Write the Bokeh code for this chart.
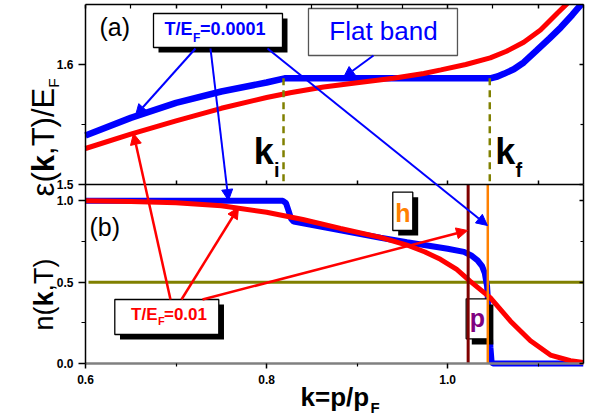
import math
from bokeh.plotting import figure
from bokeh.models import (Range1d, LinearAxis, FixedTicker, Label, Arrow, NormalHead,
                          NumeralTickFormatter)
from bokeh.embed import file_html
from bokeh.resources import INLINE

FONT = "Liberation Sans"
BLUE = "#0000FF"
RED = "#FF0000"
OLIVE = "#808000"
MAROON = "#800000"
ORANGE = "#FF8000"
PURPLE = "#800080"

# ---------------- data ----------------
# (a) single-particle spectrum eps(k,T)/E_F
k_eps_lowT = [0.600, 0.650, 0.700, 0.750, 0.800, 0.820, 1.047, 1.055, 1.062,
              1.073, 1.084, 1.098, 1.1125, 1.125, 1.1375, 1.147, 1.152]
eps_lowT = [1.5408, 1.5555, 1.5680, 1.5775, 1.5850, 1.5885, 1.5885, 1.5900, 1.5922,
            1.5960, 1.6017, 1.6115, 1.6218, 1.6310, 1.6413, 1.6497, 1.6540]
k_eps_highT = [0.600, 0.650, 0.700, 0.750, 0.800, 0.826, 0.863, 0.900, 0.940,
               0.9736, 0.9925, 1.020, 1.047, 1.065, 1.084, 1.1025, 1.121, 1.1337, 1.140]
eps_highT = [1.5300, 1.5420, 1.5530, 1.5635, 1.5725, 1.5765, 1.5812, 1.5848, 1.5885,
             1.5925, 1.5955, 1.6000, 1.6055, 1.6110, 1.6186, 1.6287, 1.6427, 1.6520, 1.6580]

# (b) occupation numbers n(k,T)
k_n_lowT = [0.600, 0.818, 0.8215, 0.8245, 0.827, 0.830, 0.8816, 0.9258, 0.955,
            0.981, 1.000, 1.018, 1.026, 1.033, 1.038, 1.041, 1.0435, 1.0455,
            1.0472, 1.0485, 1.050, 1.150]
n_lowT = [1.000, 1.000, 0.985, 0.935, 0.890, 0.872, 0.818, 0.773, 0.745,
          0.722, 0.705, 0.686, 0.664, 0.634, 0.598, 0.555, 0.475, 0.300,
          0.100, 0.010, 0.000, 0.000]
k_n_highT = [0.600, 0.650, 0.700, 0.750, 0.800, 0.840, 0.8816, 0.9258, 0.955,
             0.975, 0.992, 1.010, 1.025, 1.047, 1.0694, 1.0914, 1.1135, 1.1356, 1.150]
n_highT = [1.000, 0.996, 0.988, 0.970, 0.929, 0.885, 0.830, 0.775, 0.728,
           0.685, 0.640, 0.578, 0.505, 0.405, 0.260, 0.140, 0.052, 0.017, 0.006]

k_i = 0.8187          # start of flat band
k_f = 1.0465          # end of flat band
eps_flat = 1.5885     # flat band level
k_h_line = 1.0226     # dark-red vertical line
k_p_line = 1.0443     # orange vertical line
n_half = 0.5

k_lo, k_hi = 0.6, 1.15
eps_lo, eps_hi = 1.5, 1.65
n_lo, n_hi = 0.0, 1.1

x_ticks = [0.6, 0.8, 1.0]
x_minor = [0.7, 0.9, 1.1]
eps_ticks = [1.5, 1.6]
eps_minor = [1.55]
n_ticks = [0.0, 0.5, 1.0]
n_minor = [0.25, 0.75]

A = math.pi / 2

# one canvas: both panels share x; panel (a) uses the "eps" range, panel (b) the default range
p = figure(frame_width=583, frame_height=412,
           x_range=Range1d(0.50613, 1.15), y_range=Range1d(-0.32570, 2.20614),
           x_axis_location=None, y_axis_location=None,
           min_border_left=0, min_border_right=5, min_border_top=4, min_border_bottom=0,
           output_backend="svg", toolbar_location=None)
p.extra_y_ranges = {"eps": Range1d(1.30667, 1.65)}
p.grid.visible = False
p.outline_line_color = None
p.background_fill_color = "white"
p.border_fill_color = "white"


def axis(side, ticks, minor, labels=False, tick_in=0, tick_out=0, minor_in=0, minor_out=0,
         bounds=None, fixed=None, yname="default", color="black", width=1.5, standoff=5):
    kw = dict(ticker=FixedTicker(ticks=ticks, minor_ticks=minor), bounds=bounds)
    if side in ("left", "right"):
        kw["y_range_name"] = yname
    if fixed is not None:
        kw["fixed_location"] = fixed
    ax = LinearAxis(**kw)
    ax.axis_line_color = color
    ax.axis_line_width = width
    ax.major_tick_line_color = "black"
    ax.major_tick_line_width = 1.5
    ax.minor_tick_line_color = "black"
    ax.minor_tick_line_width = 1.2
    ax.major_tick_in = tick_in
    ax.major_tick_out = tick_out
    ax.minor_tick_in = minor_in
    ax.minor_tick_out = minor_out
    if labels:
        ax.formatter = NumeralTickFormatter(format="0.0")
        ax.major_label_text_font = FONT
        ax.major_label_text_font_style = "bold"
        ax.major_label_text_font_size = "12px"
        ax.major_label_text_color = "black"
        ax.major_label_standoff = standoff
    else:
        ax.major_label_text_font_size = "0px"
        ax.major_label_standoff = 0
        ax.major_label_text_color = None
    p.add_layout(ax, side)
    return ax


# panel (a) frame
axis("left", eps_ticks, eps_minor, True, 0, 7, 0, 4, (eps_lo, eps_hi), fixed=k_lo, yname="eps")
axis("right", eps_ticks, eps_minor, False, 4, 0, 3, 0, (eps_lo, eps_hi), yname="eps")
axis("above", [0.6, 0.7, 0.8, 0.9, 1.0, 1.1], [0.65, 0.75, 0.85, 0.95, 1.05, 1.15],
     False, 4, 0, 4, 0, (k_lo, k_hi))
axis("below", [0.7, 0.8, 0.9, 1.0, 1.1], [], False, 4, 0, 0, 0, (k_lo, k_hi), fixed=n_hi)
# panel (b) frame
axis("left", n_ticks, n_minor, True, 0, 7, 0, 4, (n_lo, n_hi), fixed=k_lo)
axis("right", n_ticks, n_minor, False, 4, 0, 3, 0, (n_lo, n_hi))
axis("below", x_ticks, x_minor, True, 0, 5, 0, 3, (k_lo, k_hi), fixed=n_lo,
     color="#808080", width=2.5, standoff=7)


def lab(x, y, text, size, color="black", bold=False, align="left", angle=0.0, yname="default"):
    # anchors are the vertical middle of the text line
    p.add_layout(Label(x=x, y=y, text=text, y_range_name=yname, text_font=FONT,
                       text_font_size=f"{size}px",
                       text_font_style="bold" if bold else "normal", text_color=color,
                       text_align=align, text_baseline="middle", angle=angle))


def arrow(x0, y0, x1, y1, color, width=2.0, yname="default"):
    p.add_layout(Arrow(end=NormalHead(size=11, fill_color=color, line_color=color, line_width=1),
                       x_start=x0, y_start=y0, x_end=x1, y_end=y1, y_range_name=yname,
                       line_color=color, line_width=width))


def box(l, r, t, b, dx, dy, border="black", shadow=True, yname="default"):
    if shadow:
        p.quad(left=l + dx, right=r + dx, top=t - dy, bottom=b - dy, y_range_name=yname,
               fill_color="black", line_color=None)
    p.quad(left=l, right=r, top=t, bottom=b, y_range_name=yname, fill_color="white",
           line_color=border, line_width=1.3)


# ---------------- panel (a) ----------------
p.line(k_eps_lowT, eps_lowT, y_range_name="eps", line_color=BLUE, line_width=6.5)
p.line(k_eps_highT, eps_highT, y_range_name="eps", line_color=RED, line_width=5)
p.segment(x0=[k_i, k_f], y0=[eps_flat, eps_flat], x1=[k_i, k_f], y1=[eps_lo, eps_lo],
          y_range_name="eps", line_color=OLIVE, line_width=2.5, line_dash="7 5")

box(0.6751, 0.81756, 1.6425, 1.61417, 0.00552, 0.00417, yname="eps")
box(0.84627, 1.01082, 1.64667, 1.6075, 0, 0, border="#555555", shadow=False, yname="eps")

# ---------------- panel (b) ----------------
p.segment(x0=[0.6033], y0=[n_half], x1=[k_hi], y1=[n_half], line_color=OLIVE, line_width=3)
p.line(k_n_lowT, n_lowT, line_color=BLUE, line_width=6)
p.line(k_n_highT, n_highT, line_color=RED, line_width=5)

box(0.63236, 0.74721, 0.3933, 0.17821, 0.00574, 0.03073)
box(0.93937, 0.96146, 1.05268, 0.81732, 0.00596, 0.03072)
box(1.02043, 1.04429, 0.3976, 0.15179, 0.00619, 0.03503)

p.segment(x0=[k_h_line], y0=[n_lo], x1=[k_h_line], y1=[n_hi], line_color=MAROON, line_width=3)
p.segment(x0=[k_p_line], y0=[n_lo], x1=[k_p_line], y1=[n_hi], line_color=ORANGE, line_width=2.5)

# ---------------- arrows ----------------
arrow(0.72148, 1.61333, 0.65522, 1.5575, BLUE, yname="eps")
arrow(0.91806, 1.6075, 0.88492, 1.58917, BLUE, yname="eps")
arrow(0.73804, 1.93575, 0.75792, 1.00168, BLUE)
arrow(0.80099, 1.93575, 1.04395, 0.84804, BLUE)
arrow(0.69387, 0.3933, 0.65301, 1.41341, RED, 2.5)
arrow(0.70602, 0.3933, 0.76897, 0.95866, RED, 2.5)
arrow(0.72921, 0.3933, 1.02187, 0.81732, RED, 2.5)

# ---------------- texts ----------------
lab(0.61546, 1.63097, "(a)", 25, yname="eps")
lab(0.71817, 1.62937, "T/E", 18, BLUE, True, "right", yname="eps")
lab(0.71872, 1.62222, "F", 12, BLUE, True, yname="eps")
lab(0.72645, 1.62937, "=0.0001", 18, BLUE, True, yname="eps")
lab(0.9291, 1.62751, "Flat band", 26, BLUE, False, "center", yname="eps")
lab(0.78586, 1.52764, "k", 36, "black", True, yname="eps")
lab(0.80817, 1.51186, "i", 20, "black", True, yname="eps")
lab(1.05246, 1.52764, "k", 36, "black", True, yname="eps")
lab(1.07488, 1.51186, "f", 20, "black", True, yname="eps")
# y label of (a): eps(k,T)/E_F  (pieces centred on their own boxes)
lab(0.55335, 1.50012, "\u03b5(", 31, "black", False, "center", A, yname="eps")
lab(0.55335, 1.51741, "k", 31, "black", True, "center", A, yname="eps")
lab(0.55335, 1.55258, ",T)/E", 31, "black", False, "center", A, yname="eps")
lab(0.56425, 1.58452, "F", 15.5, "black", False, "center", A, yname="eps")

lab(0.60442, 0.83674, "(b)", 25)
lab(0.67951, 0.30045, "T/E", 17, RED, True, "right")
lab(0.68007, 0.26001, "F", 11, RED, True)
lab(0.68669, 0.30045, "=0.01", 17, RED, True)
lab(0.95042, 0.92769, "h", 25, ORANGE, True, "center")
lab(1.03291, 0.27752, "p", 25, PURPLE, True, "center")
# y label of (b): n(k,T)
lab(0.55433, 0.27654, "n(", 27, "black", False, "center", A)
lab(0.55433, 0.39637, "k", 27, "black", True, "center", A)
lab(0.55433, 0.54391, ",T)", 27, "black", False, "center", A)
# x label: k=p/p_F
lab(0.83744, -0.20888, "k=p/p", 26, "black", True)
lab(0.91474, -0.26916, "F", 15, "black", True)

open("out.html", "w").write(file_html(p, INLINE))
